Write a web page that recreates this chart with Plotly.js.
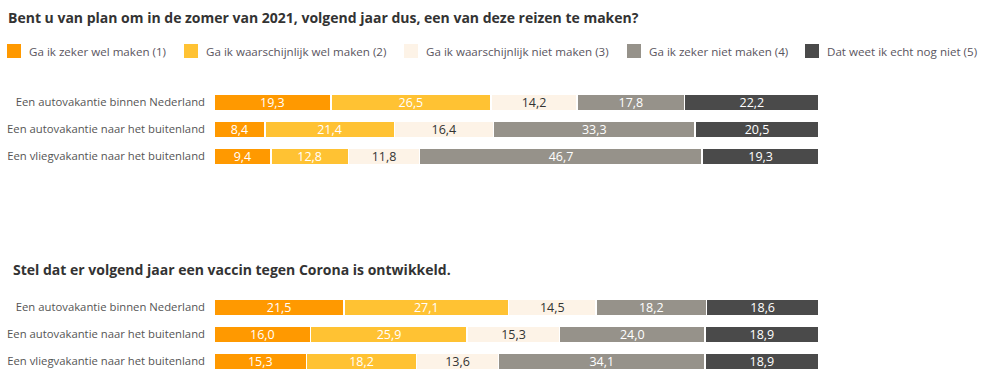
<!DOCTYPE html>
<html>
<head>
<meta charset="utf-8">
<script src="https://cdn.plot.ly/plotly-3.0.1.min.js"></script>
<style>html,body{margin:0;padding:0;background:#fff;}#chart{width:996px;height:386px;}</style>
</head>
<body>
<div id="chart"></div>
<script>
const categories = ["Een autovakantie binnen Nederland", "Een autovakantie naar het buitenland", "Een vliegvakantie naar het buitenland"];
const seriesNames = ["Ga ik zeker wel maken (1)", "Ga ik waarschijnlijk wel maken (2)", "Ga ik waarschijnlijk niet maken (3)", "Ga ik zeker niet maken (4)", "Dat weet ik echt nog niet (5)"];
const title1 = "Bent u van plan om in de zomer van 2021, volgend jaar dus, een van deze reizen te maken?";
const title2 = "Stel dat er volgend jaar een vaccin tegen Corona is ontwikkeld.";
// chart 1 values per series (rows = categories)
const chart1_s1 = [19.3, 8.4, 9.4];
const chart1_s2 = [26.5, 21.4, 12.8];
const chart1_s3 = [14.2, 16.4, 11.8];
const chart1_s4 = [17.8, 33.3, 46.7];
const chart1_s5 = [22.2, 20.5, 19.3];
// chart 2 values per series
const chart2_s1 = [21.5, 16.0, 15.3];
const chart2_s2 = [27.1, 25.9, 18.2];
const chart2_s3 = [14.5, 15.3, 13.6];
const chart2_s4 = [18.2, 24.0, 34.1];
const chart2_s5 = [18.6, 18.9, 18.9];

const colors = ["#FF9900", "#FFC233", "#FDF3E7", "#96928A", "#4A4A4A"];
const textColors = ["#ffffff", "#ffffff", "#333333", "#ffffff", "#ffffff"];
const FONT = "Open Sans, Arial, sans-serif";

const W = 996, H = 386, ML = 214, MR = 177;
const PW = W - ML - MR;
const px2x = p => (p - ML) / PW;
const px2y = p => 1 - p / H;

const chart1 = [chart1_s1, chart1_s2, chart1_s3, chart1_s4, chart1_s5];
const chart2 = [chart2_s1, chart2_s2, chart2_s3, chart2_s4, chart2_s5];
const fmt = v => v.toFixed(1).replace('.', ',');

const traces = [];
[chart1, chart2].forEach((chart, ci) => {
  chart.forEach((vals, si) => {
    traces.push({
      type: 'bar',
      orientation: 'h',
      name: seriesNames[si],
      y: categories,
      x: vals,
      text: vals.map(fmt),
      textposition: 'inside',
      insidetextanchor: 'middle',
      textangle: 0,
      constraintext: 'none',
      textfont: {family: FONT, size: 12.5, color: textColors[si]},
      marker: {color: colors[si], line: {color: '#ffffff', width: 1.5}},
      xaxis: ci === 0 ? 'x' : 'x2',
      yaxis: ci === 0 ? 'y' : 'y2',
      showlegend: false,
      hoverinfo: 'name+x'
    });
  });
});

const yAxisBase = {
  type: 'category',
  autorange: 'reversed',
  showgrid: false, zeroline: false, showline: false,
  ticks: '',
  ticklabelstandoff: 8,
  tickfont: {family: FONT, size: 11.3, color: '#555555'}
};
const xAxisBase = {
  showgrid: false, zeroline: false, showline: false,
  showticklabels: false, ticks: '', range: [0, 100], fixedrange: true
};

// manual legend (squares + labels), left edges of the legend items in px
const legendItemX = [7, 184, 404, 627, 805];
const legendCY = 51, sq = 14;
const shapes = [], annotations = [];
seriesNames.forEach((n, i) => {
  const x0 = legendItemX[i];
  shapes.push({type: 'rect', xref: 'paper', yref: 'paper',
    x0: px2x(x0), x1: px2x(x0 + sq), y0: px2y(legendCY + sq/2), y1: px2y(legendCY - sq/2),
    fillcolor: colors[i], line: {width: 0}});
  annotations.push({text: n, xref: 'paper', yref: 'paper', x: px2x(x0 + sq + 6), y: px2y(legendCY),
    xanchor: 'left', yanchor: 'middle', showarrow: false,
    font: {family: FONT, size: 11.6, color: '#5a5560'}});
});
annotations.push(
  {text: '<b>' + title1 + '</b>', xref: 'paper', yref: 'paper', x: px2x(6), y: px2y(17),
   xanchor: 'left', yanchor: 'middle', showarrow: false, font: {family: FONT, size: 14, color: '#333333'}},
  {text: '<b>' + title2 + '</b>', xref: 'paper', yref: 'paper', x: px2x(11), y: px2y(269),
   xanchor: 'left', yanchor: 'middle', showarrow: false, font: {family: FONT, size: 14, color: '#333333'}}
);

const layout = {
  width: W, height: H,
  margin: {l: ML, r: MR, t: 0, b: 0},
  paper_bgcolor: '#ffffff', plot_bgcolor: '#ffffff',
  barmode: 'stack',
  barnorm: 'percent',
  bargap: 0.37,
  showlegend: false,
  font: {family: FONT, color: '#555555'},
  xaxis: Object.assign({}, xAxisBase, {anchor: 'y'}),
  xaxis2: Object.assign({}, xAxisBase, {anchor: 'y2'}),
  yaxis: Object.assign({}, yAxisBase, {domain: [px2y(170), px2y(89)], anchor: 'x'}),
  yaxis2: Object.assign({}, yAxisBase, {domain: [px2y(375), px2y(294)], anchor: 'x2'}),
  shapes: shapes,
  annotations: annotations
};

Plotly.newPlot('chart', traces, layout, {displayModeBar: false, staticPlot: true});
</script>
</body>
</html>
